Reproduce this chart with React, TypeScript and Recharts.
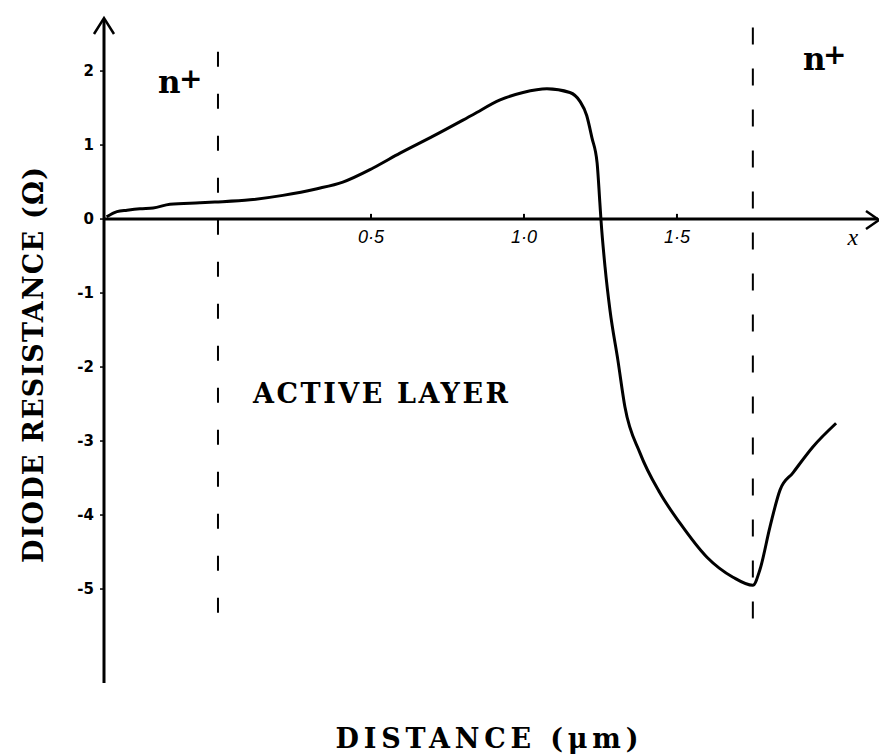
import React from 'react';
import { LineChart, Line, XAxis, YAxis, ReferenceLine, ReferenceDot } from 'recharts';

// distance (µm) and diode resistance (Ω)
const distance = [
  -0.364, -0.33, -0.297, -0.255, -0.212, -0.157, -0.059, -0.01, 0.105, 0.212, 0.324, 0.408,
  0.507, 0.595, 0.703, 0.833, 0.922, 0.997, 1.075, 1.15, 1.183, 1.205, 1.222, 1.239, 1.248,
  1.252, 1.265, 1.281, 1.307, 1.33, 1.379, 1.444, 1.51, 1.598, 1.683, 1.748, 1.771, 1.804,
  1.837, 1.879, 1.944, 2.02,
];
const resistance = [
  0.03, 0.1, 0.12, 0.14, 0.15, 0.2, 0.22, 0.23, 0.26, 0.32, 0.41, 0.5,
  0.69, 0.89, 1.12, 1.41, 1.61, 1.71, 1.76, 1.71, 1.59, 1.4, 1.1, 0.76, 0.22,
  -0.03, -0.65, -1.23, -1.91, -2.54, -3.16, -3.7, -4.11, -4.57, -4.84, -4.95, -4.74, -4.16,
  -3.66, -3.43, -3.08, -2.76,
];

const yTicks = [-5, -4, -3, -2, -1, 0, 1, 2];
const xTicks = [0.5, 1.0, 1.5];
const xTickLabels = ['0·5', '1·0', '1·5'];

// boundaries of the active layer
const layerStart = 0;
const layerEnd = 1.748;

const data = distance.map((x, i) => ({ x, r: resistance[i] }));

const serif = 'DejaVu Serif, Liberation Serif, serif';

export default function App() {
  return (
    <div style={{ position: 'absolute', left: 0, top: 0, width: 879, height: 755, background: '#fff' }}>
      <LineChart
        width={879}
        height={755}
        data={data}
        margin={{ top: 20, right: 1, bottom: 72, left: 44 }}
      >
        <XAxis dataKey="x" type="number" domain={[-0.3725, 2.157]} allowDataOverflow hide />
        <YAxis
          type="number"
          domain={[-6.27, 2.69]}
          allowDataOverflow
          ticks={yTicks}
          width={60}
          axisLine={{ stroke: '#000', strokeWidth: 3 }}
          tickLine={{ stroke: '#000', strokeWidth: 1.5 }}
          tickSize={4}
          tickMargin={6}
          tick={{ fill: '#000', fontSize: 15, fontWeight: 'bold', fontFamily: 'DejaVu Sans' }}
        />
        <ReferenceLine y={0} stroke="#000" strokeWidth={3} />
        {xTicks.map((t) => (
          <ReferenceLine
            key={'tk' + t}
            segment={[{ x: t, y: 0 }, { x: t, y: 0.07 }]}
            stroke="#000"
            strokeWidth={2}
          />
        ))}
        {xTicks.map((t, i) => (
          <ReferenceDot
            key={'tl' + t}
            x={t}
            y={0}
            r={0}
            stroke="none"
            label={{
              value: xTickLabels[i],
              position: 'bottom',
              offset: 11,
              fill: '#000',
              fontSize: 18,
              fontStyle: 'italic',
              fontFamily: 'Liberation Sans',
            }}
          />
        ))}
        <ReferenceDot
          x={2.075}
          y={0}
          r={0}
          stroke="none"
          label={{ value: 'x', position: 'bottom', offset: 9, fill: '#000', fontSize: 24, fontStyle: 'italic', fontFamily: 'Liberation Serif' }}
        />
        <ReferenceLine
          segment={[{ x: layerStart, y: 2.26 }, { x: layerStart, y: -5.49 }]}
          stroke="#000"
          strokeWidth={2}
          strokeDasharray="15 27"
        />
        <ReferenceLine
          segment={[{ x: layerEnd, y: 2.59 }, { x: layerEnd, y: -5.58 }]}
          stroke="#000"
          strokeWidth={2}
          strokeDasharray="17 24"
        />
        <Line
          type="monotone"
          dataKey="r"
          stroke="#000"
          strokeWidth={3}
          dot={false}
          isAnimationActive={false}
        />
      </LineChart>
      <svg
        width={879}
        height={755}
        style={{ position: 'absolute', left: 0, top: 0, pointerEvents: 'none' }}
      >
        {/* axis arrowheads */}
        <polyline points="94,34 104,18 114,34" fill="none" stroke="#000" strokeWidth={2.5} />
        <polyline points="866,211 879,220 866,229" fill="none" stroke="#000" strokeWidth={2.5} />

        <g fontFamily={serif} fontWeight="bold" fill="#000">
          <text x={158} y={93} fontSize={31}>n</text>
          <text x={179} y={88} fontSize={28}>+</text>
          <text x={803} y={70} fontSize={31}>n</text>
          <text x={823} y={64} fontSize={28}>+</text>

          <text x={253} y={403} fontSize={27} textLength={255} lengthAdjust="spacing">
            ACTIVE LAYER
          </text>
          <text x={487} y={748} fontSize={27} textAnchor="middle" textLength={303} lengthAdjust="spacing">
            DISTANCE (μm)
          </text>
          <text
            transform="translate(43,365) rotate(-90)"
            fontSize={27}
            textAnchor="middle"
            textLength={396}
            lengthAdjust="spacing"
          >
            DIODE RESISTANCE (Ω)
          </text>
        </g>
      </svg>
    </div>
  );
}
